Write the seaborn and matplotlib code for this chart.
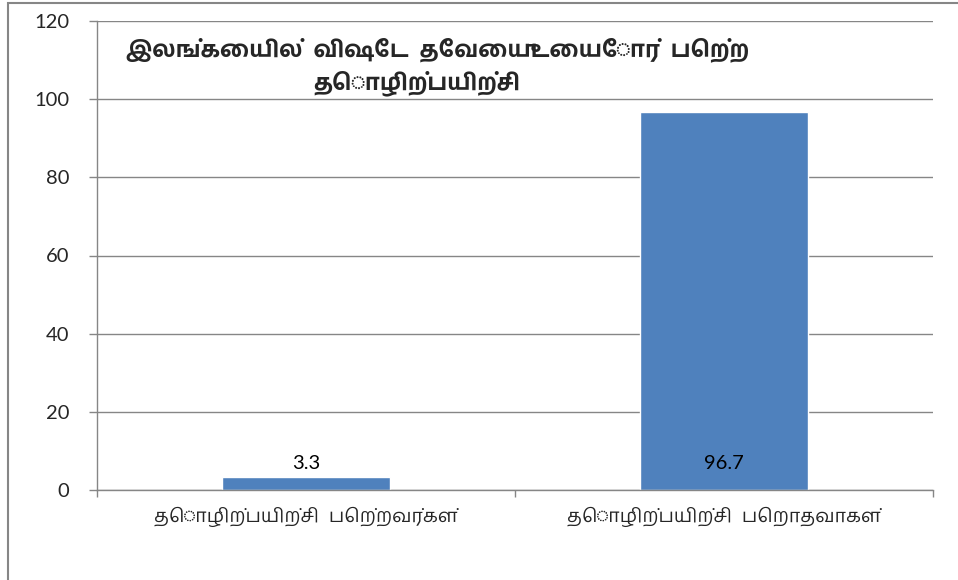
import matplotlib
matplotlib.use('Agg')
import matplotlib.pyplot as plt
import seaborn as sns
from matplotlib.patches import Rectangle


# Data
title_lines = ['இலங்கையில்  விஷேட  தேவையுடையோர்  பெற்ற', 'தொழிற்பயிற்சி']
categories = ['தொழிற்பயிற்சி  பெற்றவர்கள்', 'தொழிற்பயிற்சி  பெறாதவாகள்']
values = [3.3, 96.7]
value_labels = ['3.3', '96.7']
y_ticks = [0, 20, 40, 60, 80, 100, 120]

sns.set_theme(style='white')
# Lato for digits, Hind Madurai for the Tamil glyphs
plt.rcParams['font.family'] = ['Lato', 'Hind Madurai', 'DejaVu Sans']

grid_color = '#868686'
bar_color = '#4F81BD'

fig = plt.figure(figsize=(9.58, 5.8), dpi=100)
ax = fig.add_axes([97 / 958, 1 - 490 / 580, 836 / 958, 469 / 580])

sns.barplot(x=categories, y=values, color=bar_color, width=0.4,
            saturation=1, ax=ax)

ax.set_xlim(-0.5, 1.5)
ax.set_ylim(0, 120)
ax.set_yticks(y_ticks)
ax.yaxis.grid(True, color=grid_color, linewidth=1)
ax.set_axisbelow(True)

for side in ['top', 'right']:
    ax.spines[side].set_visible(False)
for side in ['left', 'bottom']:
    ax.spines[side].set_color(grid_color)
    ax.spines[side].set_linewidth(1)

# category boundaries get tick marks, labels sit between them
ax.set_xticks([-0.5, 0.5, 1.5])
ax.set_xticklabels(['', '', ''])
ax.set_xticks([0, 1], minor=True)
ax.set_xticklabels(categories, minor=True, fontsize=14)
ax.tick_params(axis='x', which='major', length=5, width=1,
               color=grid_color, direction='out', bottom=True)
ax.tick_params(axis='x', which='minor', length=0, pad=12)
ax.tick_params(axis='y', length=6, width=1, color=grid_color,
               direction='out', left=True, labelsize=14.5, pad=14)
ax.set_xlabel('')
ax.set_ylabel('')

# value labels near the base of each bar
for i, label in enumerate(value_labels):
    ax.annotate(label, xy=(i, 0), xytext=(0, 19), textcoords='offset points',
                ha='center', va='center', fontsize=14.5, color='black')

# title sits inside the plot area
ax.text(0.407, 0.94, title_lines[0], transform=ax.transAxes, ha='center',
        va='center', fontsize=16.5, fontweight='bold')
ax.text(0.382, 0.867, title_lines[1], transform=ax.transAxes, ha='center',
        va='center', fontsize=16.5, fontweight='bold')

# chart area border
fig.patches.append(Rectangle((8 / 958, -0.1), 1.2, 1.1 - 3 / 580,
                             transform=fig.transFigure, fill=False,
                             edgecolor=grid_color, linewidth=1.5))

fig.savefig('out.png', dpi=100)
